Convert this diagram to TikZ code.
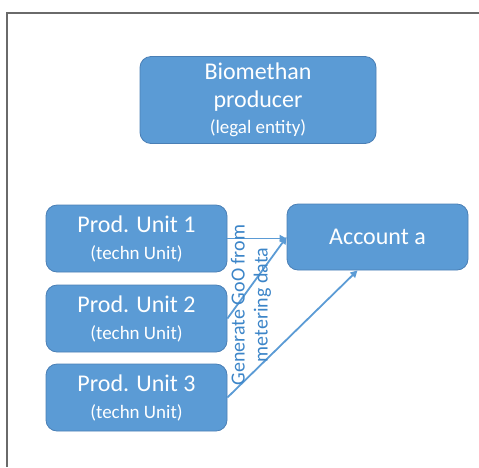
\documentclass[tikz,border=0pt]{standalone}
\usepackage{fontspec}
\setmainfont{Carlito}
\usetikzlibrary{arrows.meta}

\definecolor{boxblue}{HTML}{5B9BD5}
\definecolor{boxedge}{HTML}{4A7FB5}
\definecolor{lineblue}{HTML}{5B9BD5}
\definecolor{labelblue}{HTML}{3C85C8}
\definecolor{framegray}{HTML}{6A6A6A}

\newcommand{\smalltxt}{\fontsize{19}{20}\selectfont}

\tikzset{
  unitbox/.style={draw=boxedge, line width=0.8pt, fill=boxblue, rounded corners=11pt,
    text=white, align=center, inner sep=0pt, minimum width=181pt, minimum height=67pt,
    font=\fontsize{24}{26}\selectfont},
  genarrow/.style={draw=lineblue, line width=1.8pt, -{Triangle[length=7pt,width=7pt]}}
}

\begin{document}
\begin{tikzpicture}[x=1pt,y=-1pt]
	\useasboundingbox (0,0) rectangle (479,467);
	\draw[framegray, line width=1.5pt] (7,467) -- (7,13) -- (479,13);

	\node[unitbox, minimum width=236pt, minimum height=87pt] (prod) at (258,100)
		{Biomethan\\[2pt]producer\\{\smalltxt (legal entity)}};

	\node[unitbox] (u1) at (136.5,238.5) {Prod. Unit 1\\[1pt]{\smalltxt (techn Unit)}};
	\node[unitbox] (u2) at (136.5,318.5) {Prod. Unit 2\\[1pt]{\smalltxt (techn Unit)}};
	\node[unitbox] (u3) at (136.5,397.5) {Prod. Unit 3\\[1pt]{\smalltxt (techn Unit)}};

	\node[unitbox, minimum height=66pt] (acc) at (377.5,237) {Account a};

	\draw[genarrow] (u1.east) -- (u1.east -| acc.west);
	\draw[genarrow] (u2.east) -- (acc.west);
	\draw[genarrow] (u3.east) -- ([xshift=-20pt]acc.south);

	\node[rotate=90, text=labelblue, align=center, inner sep=0pt,
		font=\fontsize{20}{23}\selectfont] (goo) at (251,305)
		{Generate GoO from\\metering data};
\end{tikzpicture}
\end{document}
